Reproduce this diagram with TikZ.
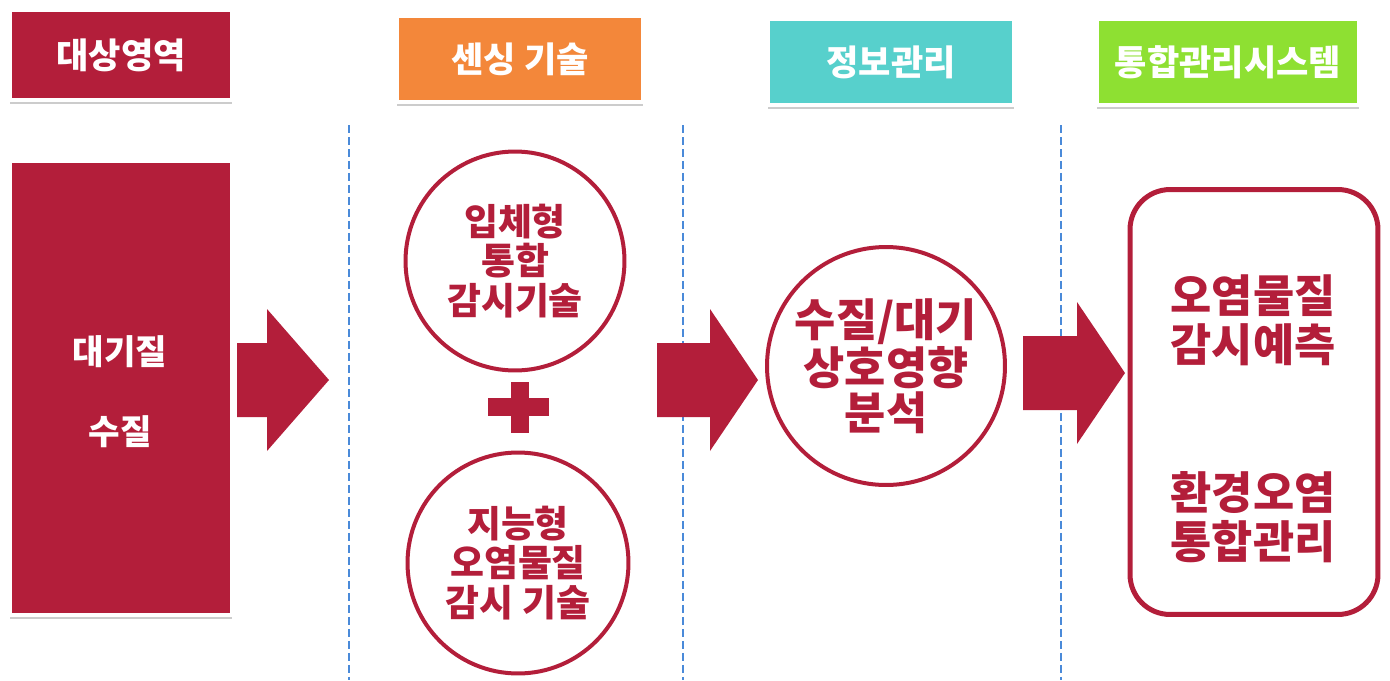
\documentclass[tikz,border=0pt]{standalone}
\usepackage{fontspec}
\setmainfont{Noto Sans CJK KR}
\usetikzlibrary{shadows}
\usetikzlibrary{positioning}

\definecolor{crim}{HTML}{B31E3A}
\definecolor{orng}{HTML}{F3873A}
\definecolor{teal}{HTML}{57D0CC}
\definecolor{lime}{HTML}{8EE032}
\definecolor{sepblue}{HTML}{4A8AD9}

\tikzset{
  headbox/.style={minimum height=1.72cm, draw=white, line width=0.08cm, text=white,
    font=\fontsize{20}{24}\selectfont\bfseries,
    drop shadow={shadow xshift=0pt, shadow yshift=-0.08cm, opacity=0.4}},
  ring/.style={circle, draw=crim, line width=0.08cm, inner sep=0pt, text=crim, align=center},
  smalltxt/.style={font=\fontsize{21}{22.7}\selectfont\bfseries},
  bigtxt/.style={text=crim, align=center, font=\fontsize{25.5}{25.5}\selectfont\bfseries},
  sepline/.style={draw=sepblue, line width=0.04cm, dash pattern=on 0.16cm off 0.08cm}
}

\begin{document}
\begin{tikzpicture}[x=0.02cm,y=-0.02cm]
\useasboundingbox (0,0) rectangle (1390,680);
\node (h1) at (121,55) [headbox, fill=crim, minimum width=4.46cm, minimum height=1.8cm] {대상영역};
\node (h2) at (520,59) [headbox, fill=orng, minimum width=4.92cm] {센싱 기술};
\node (h3) at (891,62) [headbox, fill=teal, minimum width=4.94cm] {정보관리};
\node (h4) at (1228,62) [headbox, fill=lime, minimum width=5.26cm] {통합관리시스템};
\foreach \x in {349,683,1061} {
\draw[sepline] (\x,125) -- (\x,680);
}
\node (area) at (121,388) [fill=crim, draw=white, line width=0.08cm, minimum width=4.46cm, minimum height=9.1cm,
  drop shadow={shadow xshift=0pt, shadow yshift=-0.08cm, opacity=0.4}] {};
\node (air) at (120,352) [text=white, font=\fontsize{19.5}{22}\selectfont\bfseries] {대기질};
\node (water) [below of = air, node distance = 1.6cm, text=white, font=\fontsize{19.5}{22}\selectfont\bfseries] {수질};
\foreach \a/\b/\c/\m in {237/267/329/380, 657/710/758/380, 1023/1077/1125/373} {
\fill[crim] (\a,\m-37) -- (\b,\m-37) -- (\b,\m-71) -- (\c,\m) -- (\b,\m+71) -- (\b,\m+37) -- (\a,\m+37) -- cycle;
}
\node (sense1) at (515,261) [ring, minimum size=4.38cm, smalltxt] {입체형\\통합\\감시기술};
\node (sense2) at (518,563) [ring, minimum size=4.42cm, smalltxt] {지능형\\오염물질\\감시 기술};
\fill[crim] (488,398) rectangle (549,416);
\fill[crim] (511,382) rectangle (529,433);
\node (info) at (886,366) [ring, minimum size=4.76cm, bigtxt] {수질/대기\\상호영향\\분석};
\node (sys) at (1254,402) [draw=crim, line width=0.1cm, rounded corners=0.8cm, minimum width=4.96cm, minimum height=8.5cm] {};
\node (pred) at (1253,320) [bigtxt, font=\fontsize{25.5}{27.8}\selectfont\bfseries] {오염물질\\감시예측};
\node (mgmt) [below of = pred, node distance = 3.94cm, bigtxt, font=\fontsize{25.5}{27.8}\selectfont\bfseries] {환경오염\\통합관리};
\end{tikzpicture}
\end{document}
